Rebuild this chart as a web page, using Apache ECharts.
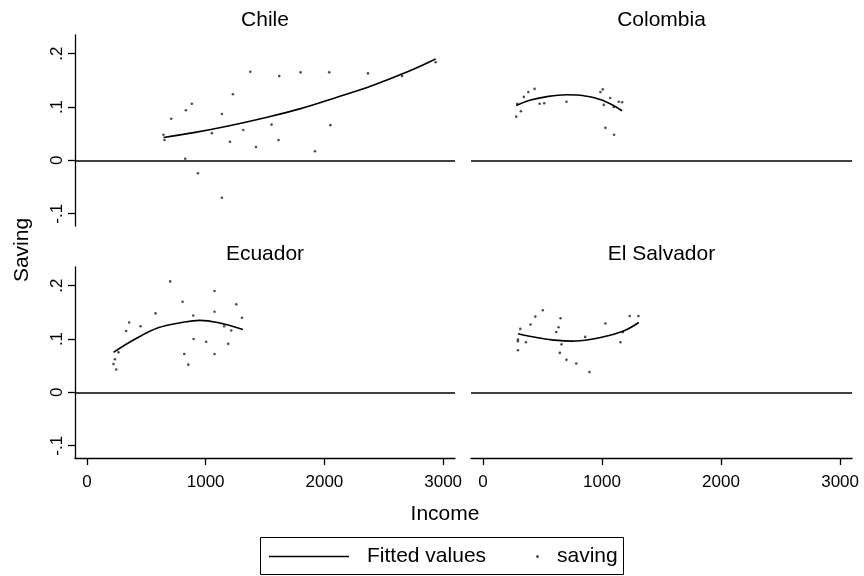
<!DOCTYPE html>
<html>
<head>
<meta charset="utf-8">
<script src="https://cdn.jsdelivr.net/npm/echarts@6/dist/echarts.min.js"></script>
<style>
html,body{margin:0;padding:0;background:#fff;}
#chart{width:864px;height:576px;}
</style>
</head>
<body>
<div id="chart"></div>
<script>
// ---- Data ----
const panelTitles = ['Chile', 'Colombia', 'Ecuador', 'El Salvador'];

const chileIncome = [645, 654, 710, 834, 884, 828, 935, 1137, 1137, 1053, 1205, 1230, 1317, 1376, 1424, 1555, 1614, 1620, 1800, 1921, 2041, 2050, 2367, 2654, 2937];
const chileSaving = [0.048, 0.038, 0.078, 0.094, 0.106, 0.003, -0.024, 0.087, -0.070, 0.051, 0.035, 0.124, 0.057, 0.166, 0.025, 0.067, 0.038, 0.158, 0.165, 0.017, 0.165, 0.066, 0.163, 0.158, 0.184];
const chileFitIncome = [645, 900, 1200, 1500, 1800, 2100, 2400, 2700, 2937];
const chileFitted = [0.043, 0.052, 0.065, 0.080, 0.097, 0.118, 0.140, 0.166, 0.190];

const colombiaIncome = [280, 289, 319, 344, 381, 434, 476, 515, 702, 987, 1007, 1015, 1069, 1029, 1102, 1141, 1169, 1099];
const colombiaSaving = [0.082, 0.106, 0.092, 0.119, 0.128, 0.134, 0.106, 0.107, 0.110, 0.128, 0.133, 0.104, 0.117, 0.061, 0.048, 0.110, 0.109, 0.100];
const colombiaFitIncome = [280, 400, 550, 700, 850, 1000, 1169];
const colombiaFitted = [0.103, 0.113, 0.120, 0.123, 0.121, 0.113, 0.093];

const ecuadorIncome = [224, 236, 247, 266, 331, 356, 452, 578, 702, 806, 820, 854, 896, 899, 1005, 1075, 1075, 1075, 1156, 1190, 1216, 1258, 1306];
const ecuadorSaving = [0.053, 0.062, 0.043, 0.075, 0.115, 0.131, 0.124, 0.148, 0.208, 0.170, 0.072, 0.052, 0.144, 0.100, 0.095, 0.190, 0.151, 0.072, 0.124, 0.091, 0.116, 0.165, 0.140];
const ecuadorFitIncome = [224, 400, 600, 800, 950, 1100, 1314];
const ecuadorFitted = [0.075, 0.099, 0.121, 0.131, 0.135, 0.131, 0.118];

const salvadorIncome = [294, 294, 294, 314, 361, 400, 440, 503, 616, 635, 652, 660, 646, 702, 784, 895, 859, 1029, 1155, 1175, 1233, 1306];
const salvadorSaving = [0.099, 0.096, 0.079, 0.119, 0.094, 0.127, 0.142, 0.154, 0.113, 0.122, 0.139, 0.090, 0.074, 0.061, 0.054, 0.038, 0.104, 0.129, 0.094, 0.113, 0.143, 0.143];
const salvadorFitIncome = [294, 450, 600, 750, 900, 1050, 1200, 1309];
const salvadorFitted = [0.110, 0.103, 0.098, 0.096, 0.099, 0.106, 0.117, 0.131];

const xTickValues = [0, 1000, 2000, 3000];
const xTickLabels = ['0', '1000', '2000', '3000'];
const yTickValues = [-0.1, 0, 0.1, 0.2];
const yTickLabels = ['-.1', '0', '.1', '.2'];
const xTitle = 'Income';
const yTitle = 'Saving';
const legendNames = ['Fitted values', 'saving'];

// ---- Build chart ----
const zip = (a, b) => a.map((v, i) => [v, b[i]]);
const scatterSets = [
  zip(chileIncome, chileSaving),
  zip(colombiaIncome, colombiaSaving),
  zip(ecuadorIncome, ecuadorSaving),
  zip(salvadorIncome, salvadorSaving)
];
const fitSets = [
  zip(chileFitIncome, chileFitted),
  zip(colombiaFitIncome, colombiaFitted),
  zip(ecuadorFitIncome, ecuadorFitted),
  zip(salvadorFitIncome, salvadorFitted)
];

const FONT = 'Liberation Sans, Arial, sans-serif';
const grids = [
  {left: 75, top: 35, width: 380, height: 191},
  {left: 471, top: 35, width: 381, height: 191},
  {left: 75, top: 267, width: 380, height: 191},
  {left: 471, top: 267, width: 381, height: 191}
];

const xAxes = grids.map((g, i) => {
  const bottomRow = i >= 2;
  return {
    type: 'value', gridIndex: i, min: -100, max: 3100,
    splitLine: {show: false},
    axisLine: {show: bottomRow, onZero: false, lineStyle: {color: '#000', width: 1.3}},
    axisTick: {show: bottomRow, length: 7, customValues: xTickValues, lineStyle: {color: '#000', width: 1.3}},
    axisLabel: {
      show: bottomRow, customValues: xTickValues, margin: 16,
      color: '#000', fontFamily: FONT, fontSize: 17,
      formatter: v => xTickLabels[xTickValues.indexOf(Math.round(v))] ?? ''
    }
  };
});

const yAxes = grids.map((g, i) => {
  const leftCol = i % 2 === 0;
  return {
    type: 'value', gridIndex: i, min: -0.123, max: 0.235,
    splitLine: {show: false},
    axisLine: {show: leftCol, onZero: false, lineStyle: {color: '#000', width: 1.3}},
    axisTick: {show: leftCol, length: 7, customValues: yTickValues, lineStyle: {color: '#000', width: 1.3}},
    axisLabel: {
      show: leftCol, customValues: yTickValues, margin: 9, rotate: 90,
      color: '#000', fontFamily: FONT, fontSize: 17,
      formatter: v => {
        const k = yTickValues.findIndex(t => Math.abs(t - v) < 1e-6);
        return k >= 0 ? yTickLabels[k] : '';
      }
    }
  };
});

const series = [];
for (let i = 0; i < 4; i++) {
  series.push({
    name: legendNames[1], type: 'scatter', xAxisIndex: i, yAxisIndex: i,
    data: scatterSets[i], symbol: 'circle', symbolSize: 2.6,
    itemStyle: {color: '#222'}, silent: true,
    markLine: {
      silent: true, symbol: ['none', 'none'], label: {show: false},
      lineStyle: {color: '#000', width: 1.5, type: 'solid'},
      data: [{yAxis: 0}]
    }
  });
  series.push({
    name: legendNames[0], type: 'line', xAxisIndex: i, yAxisIndex: i,
    data: fitSets[i], showSymbol: false, smooth: 0.4,
    color: '#000', lineStyle: {color: '#000', width: 1.6}, silent: true
  });
}

const graphic = [];
panelTitles.forEach((t, i) => {
  const g = grids[i];
  graphic.push({
    type: 'text', x: g.left + g.width / 2, y: i < 2 ? 20 : 254,
    style: {text: t, font: '21px ' + FONT, fill: '#000', textAlign: 'center', textVerticalAlign: 'middle'}
  });
});
graphic.push({
  type: 'text', x: 445, y: 514,
  style: {text: xTitle, font: '21px ' + FONT, fill: '#000', textAlign: 'center', textVerticalAlign: 'middle'}
});
graphic.push({
  type: 'text', x: 22, y: 250, rotation: Math.PI / 2,
  style: {text: yTitle, font: '21px ' + FONT, fill: '#000', textAlign: 'center', textVerticalAlign: 'middle'}
});
graphic.push({
  type: 'rect', shape: {x: 260.5, y: 537.5, width: 363, height: 37},
  style: {fill: 'none', stroke: '#000', lineWidth: 1}
});

const option = {
  animation: false,
  backgroundColor: '#fff',
  grid: grids,
  xAxis: xAxes,
  yAxis: yAxes,
  legend: [
    {
      data: [legendNames[0]], left: 269, top: 546, padding: 0,
      icon: 'rect', itemWidth: 80, itemHeight: 1.5, itemGap: 0,
      selectedMode: false,
      textStyle: {color: '#000', fontFamily: FONT, fontSize: 21, padding: [0, 0, 0, 13]}
    },
    {
      data: [legendNames[1]], left: 536, top: 546, padding: 0,
      icon: 'circle', itemWidth: 3, itemHeight: 3, itemGap: 0,
      selectedMode: false,
      textStyle: {color: '#000', fontFamily: FONT, fontSize: 21, padding: [0, 0, 0, 13]}
    }
  ],
  graphic: graphic,
  series: series
};

const chart = echarts.init(document.getElementById('chart'), null, {renderer: 'canvas'});
chart.setOption(option);
</script>
</body>
</html>
